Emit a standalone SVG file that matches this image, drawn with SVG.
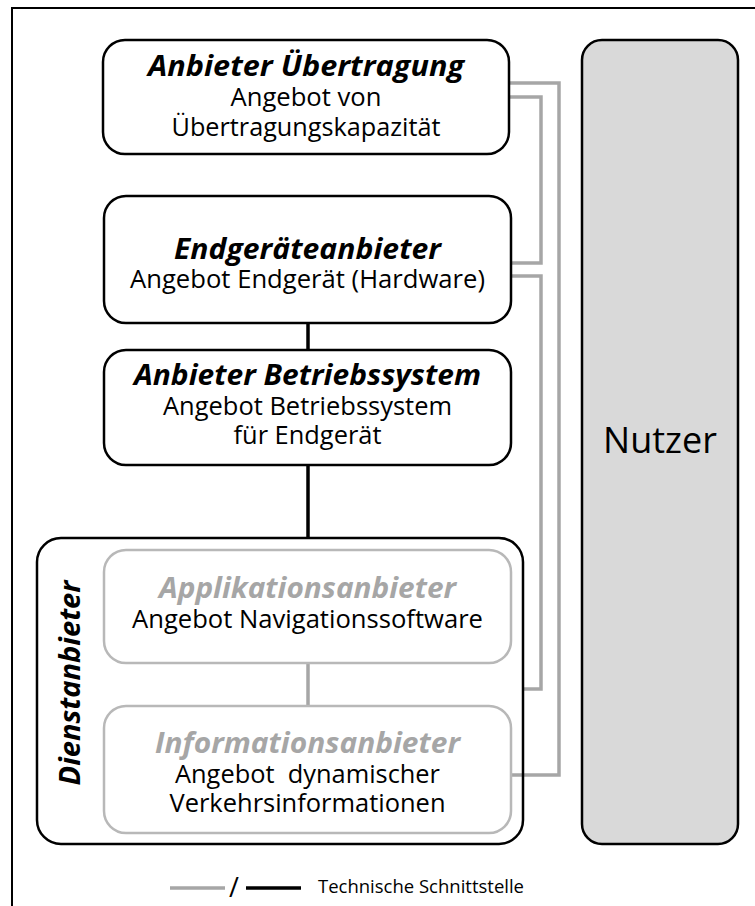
<svg xmlns="http://www.w3.org/2000/svg" width="755" height="906" viewBox="0 0 755 906">
  <style>
    .box { fill: #ffffff; stroke: #000000; stroke-width: 2.5; }
    .box-grey { fill: #ffffff; stroke: #b8b8b8; stroke-width: 2.5; }
    .title { font-family: "Open Sans", "Liberation Sans", sans-serif; font-size: 29px; font-weight: bold; font-style: italic; fill: #000000; text-anchor: middle; }
    .title-grey { fill: #a6a6a6; }
    .body { font-family: "Open Sans", "Liberation Sans", sans-serif; font-size: 25.5px; fill: #000000; text-anchor: middle; }
    .link-grey { fill: none; stroke: #a6a6a6; stroke-width: 3.5; }
    .link-black { fill: none; stroke: #000000; stroke-width: 3.5; }
    .frame { fill: none; stroke: #000000; stroke-width: 2; }
  </style>

  <!-- outer frame (top and left edges) -->
  <path class="frame" d="M 12 906 V 8 H 755"/>

  <!-- connectors -->
  <g id="connectors">
    <path class="link-black" d="M 308 323 V 350"/>
    <path class="link-black" d="M 308 465 V 538"/>
    <path class="link-grey" d="M 308 663 V 706"/>
    <path class="link-grey" d="M 509 83 H 559 V 775 H 511"/>
    <path class="link-grey" d="M 509 97 H 541 V 263 H 511"/>
    <path class="link-grey" d="M 511 276 H 541 V 689 H 523"/>
  </g>

  <!-- service provider group -->
  <g id="dienstanbieter">
    <rect x="37" y="538" width="486" height="306" rx="24" fill="none" stroke="#000000" stroke-width="2.5"/>
    <text class="title" transform="translate(80,683) rotate(-90)" textLength="205" lengthAdjust="spacingAndGlyphs">Dienstanbieter</text>
  </g>

  <g id="anbieter-uebertragung">
    <rect class="box" x="103" y="40" width="406" height="114" rx="22"/>
    <text class="title" x="306" y="76" textLength="316" lengthAdjust="spacingAndGlyphs">Anbieter Übertragung</text>
    <text class="body" x="306" y="106" textLength="151" lengthAdjust="spacingAndGlyphs">Angebot von</text>
    <text class="body" x="306" y="136" textLength="269" lengthAdjust="spacingAndGlyphs">Übertragungskapazität</text>
  </g>

  <g id="endgeraeteanbieter">
    <rect class="box" x="104" y="196" width="407" height="127" rx="22"/>
    <text class="title" x="307.5" y="259" textLength="267" lengthAdjust="spacingAndGlyphs">Endgeräteanbieter</text>
    <text class="body" x="307.5" y="288" textLength="355" lengthAdjust="spacingAndGlyphs">Angebot Endgerät (Hardware)</text>
  </g>

  <g id="anbieter-betriebssystem">
    <rect class="box" x="104" y="350" width="407" height="115" rx="22"/>
    <text class="title" x="307.5" y="385" textLength="347" lengthAdjust="spacingAndGlyphs">Anbieter Betriebssystem</text>
    <text class="body" x="307.5" y="415" textLength="289" lengthAdjust="spacingAndGlyphs">Angebot Betriebssystem</text>
    <text class="body" x="307.5" y="444" textLength="148" lengthAdjust="spacingAndGlyphs">für Endgerät</text>
  </g>

  <g id="applikationsanbieter">
    <rect class="box-grey" x="104" y="550" width="407" height="113" rx="22"/>
    <text class="title title-grey" x="307.5" y="598" textLength="297" lengthAdjust="spacingAndGlyphs">Applikationsanbieter</text>
    <text class="body" x="307.5" y="628" textLength="351" lengthAdjust="spacingAndGlyphs">Angebot Navigationssoftware</text>
  </g>

  <g id="informationsanbieter">
    <rect class="box-grey" x="104" y="706" width="407" height="127" rx="22"/>
    <text class="title title-grey" x="307.5" y="753" textLength="305" lengthAdjust="spacingAndGlyphs">Informationsanbieter</text>
    <text class="body" x="307.5" y="783" textLength="265" lengthAdjust="spacingAndGlyphs" xml:space="preserve">Angebot  dynamischer</text>
    <text class="body" x="307.5" y="812" textLength="276" lengthAdjust="spacingAndGlyphs">Verkehrsinformationen</text>
  </g>

  <g id="nutzer">
    <rect x="582" y="40" width="156" height="804" rx="20" fill="#d9d9d9" stroke="#000000" stroke-width="2.5"/>
    <text x="660" y="453" font-family="'Open Sans', 'Liberation Sans', sans-serif" font-size="36" text-anchor="middle" fill="#000000">Nutzer</text>
  </g>

  <!-- legend -->
  <g id="legend">
    <line x1="170" y1="888" x2="225" y2="888" stroke="#a6a6a6" stroke-width="3.5"/>
    <text x="234" y="897" font-family="'Open Sans', 'Liberation Sans', sans-serif" font-size="27" text-anchor="middle" fill="#000000">/</text>
    <line x1="246" y1="888" x2="301" y2="888" stroke="#000000" stroke-width="3.5"/>
    <text x="318" y="893" font-family="'Open Sans', 'Liberation Sans', sans-serif" font-size="18.5" fill="#000000" textLength="206" lengthAdjust="spacingAndGlyphs">Technische Schnittstelle</text>
  </g>
</svg>
